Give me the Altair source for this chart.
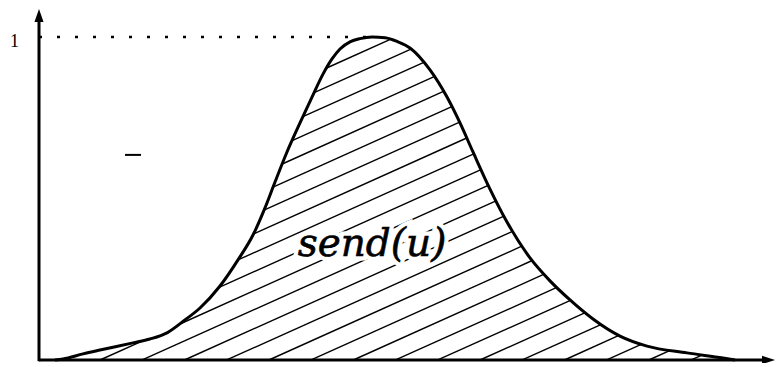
import altair as alt
import numpy as np
import pandas as pd

# curve: u (horizontal units) and send(u) (0..1)
u_vals = [1.6, 2.4, 4.4, 6.1, 9.4, 11.1, 12.8, 14.6, 16.1, 18.1, 19.9, 21.4, 22.6, 23.6,
          24.8, 26.1, 27.3, 28.4, 29.3, 30.1, 31.1, 32.1, 33.3, 34.6, 35.9, 37.1, 39.1,
          40.8, 42.1, 43.4, 45.1, 46.8, 49.1, 51.1, 53.1, 55.4, 58.1, 60.8, 64.8, 68.4, 69.6]
send_vals = [0.0, 0.003, 0.019, 0.031, 0.053, 0.065, 0.084, 0.124, 0.161, 0.229, 0.310,
             0.387, 0.471, 0.551, 0.644, 0.734, 0.814, 0.885, 0.932, 0.963, 0.985, 0.995,
             1.0, 0.998, 0.985, 0.966, 0.898, 0.814, 0.734, 0.644, 0.529, 0.427, 0.316,
             0.245, 0.186, 0.127, 0.074, 0.043, 0.022, 0.006, 0.0]

label_text = "send(u)"
label_u, label_y = 33.3, 0.323
one_label = "1"
level_one = 1.0

X_DOM = [-3.1, 73.6]
Y_DOM = [-0.0093, 1.0898]
W, H = 767, 355


def X(f):
    return alt.X(f, type="quantitative", scale=alt.Scale(domain=X_DOM, nice=False, zero=False), axis=None)


def Y(f):
    return alt.Y(f, type="quantitative", scale=alt.Scale(domain=Y_DOM, nice=False, zero=False), axis=None)


curve_df = pd.DataFrame({"u": u_vals, "s": send_vals})

# hatch segments clipped to the area under the curve
k = 0.45 * 10 / 323.0
dc = 19.0 / 323.0
ug = np.linspace(0, 72, 14401)
yc = np.interp(ug, u_vals, send_vals)
c0 = -k * 44.1
cs = [c0 + n * dc for n in range(-30, 40)]
rows = []
for c in cs:
    yl = c + k * ug
    inside = (yl >= 0) & (yl <= yc) & (yc > 0)
    if not inside.any():
        continue
    idx = np.where(inside)[0]
    breaks = np.where(np.diff(idx) > 1)[0]
    starts = np.concatenate([[idx[0]], idx[breaks + 1]])
    ends = np.concatenate([idx[breaks], [idx[-1]]])
    for a, b in zip(starts, ends):
        if ug[b] - ug[a] < 0.3:
            continue
        rows.append({"u": ug[a], "y": c + k * ug[a], "u2": ug[b], "y2": c + k * ug[b]})
hatch_df = pd.DataFrame(rows)

hatch = alt.Chart(hatch_df).mark_rule(color="black", strokeWidth=1.4).encode(
    x=X("u"), y=Y("y"), x2="u2", y2="y2")

txt_df = pd.DataFrame({"u": [label_u], "y": [label_y], "t": [label_text]})
halo = alt.Chart(txt_df).mark_text(font="DejaVu Serif", fontStyle="italic", fontSize=39,
                                   baseline="alphabetic", align="center",
                                   color="white", stroke="white", strokeWidth=9).encode(
    x=X("u"), y=Y("y"), text="t:N")
label = alt.Chart(txt_df).mark_text(font="DejaVu Serif", fontStyle="italic", fontSize=39,
                                    baseline="alphabetic", align="center",
                                    color="black", stroke="black", strokeWidth=0.6).encode(
    x=X("u"), y=Y("y"), text="t:N")

curve = alt.Chart(curve_df).mark_line(color="black", strokeWidth=3, interpolate="monotone").encode(
    x=X("u"), y=Y("s"))

dots_df = pd.DataFrame({"u": [0.0], "u2": [33.0], "y": [level_one]})
dots = alt.Chart(dots_df).mark_rule(color="black", strokeWidth=2.5, strokeDash=[3, 15]).encode(
    x=X("u"), x2="u2", y=Y("y"))

yaxis_df = pd.DataFrame({"u": [0.0], "y": [-0.004], "y2": [1.06]})
yaxis = alt.Chart(yaxis_df).mark_rule(color="black", strokeWidth=3).encode(
    x=X("u"), y=Y("y"), y2="y2")
xaxis_df = pd.DataFrame({"u": [0.0], "u2": [72.5], "y": [0.0]})
xaxis = alt.Chart(xaxis_df).mark_rule(color="black", strokeWidth=3).encode(
    x=X("u"), x2="u2", y=Y("y"))

up_df = pd.DataFrame({"u": [0.0], "y": [1.0666]})
up_arrow = alt.Chart(up_df).mark_point(shape="M0,-1L0.7,1L-0.7,1Z", filled=True, size=169,
                                       color="black", opacity=1).encode(x=X("u"), y=Y("y"))
right_df = pd.DataFrame({"u": [72.95], "y": [0.0]})
right_arrow = alt.Chart(right_df).mark_point(shape="M1,0L-1,0.65L-1,-0.65Z", filled=True, size=169,
                                             color="black", opacity=1).encode(x=X("u"), y=Y("y"))

one_df = pd.DataFrame({"u": [-2.45], "y": [0.970], "t": [one_label]})
one = alt.Chart(one_df).mark_text(font="Liberation Serif", fontSize=18, baseline="alphabetic",
                                  align="center", color="black").encode(
    x=X("u"), y=Y("y"), text="t:N")

stray_df = pd.DataFrame({"u": [8.6], "u2": [10.2], "y": [0.635]})
stray = alt.Chart(stray_df).mark_rule(color="black", strokeWidth=2).encode(
    x=X("u"), x2="u2", y=Y("y"))

chart = alt.layer(hatch, halo, label, curve, dots, yaxis, xaxis, up_arrow, right_arrow, one, stray).properties(
    width=W, height=H, padding=0, autosize=alt.AutoSizeParams(type="none"), background="white"
).configure_view(stroke=None)

chart.save("out.html", embed_options={"renderer": "svg", "actions": False})
